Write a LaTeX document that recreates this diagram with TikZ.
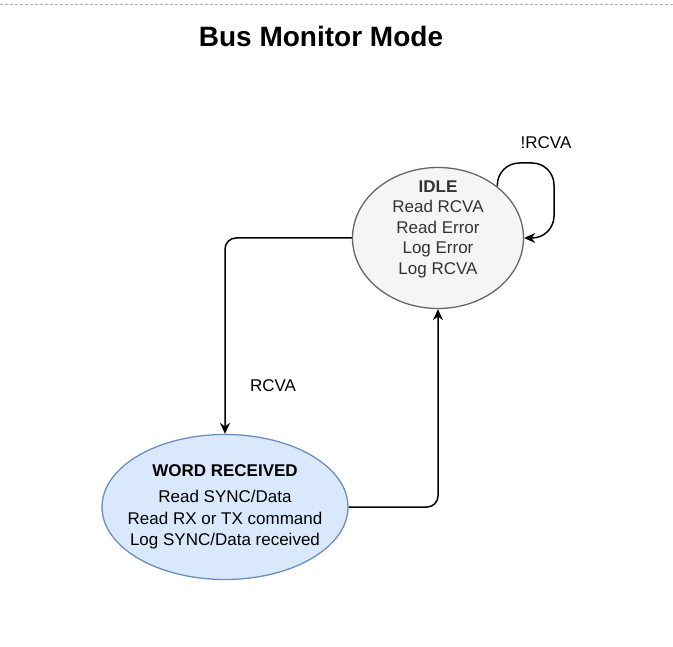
\documentclass[tikz,border=0pt]{standalone}
\usepackage{fontspec}
\setmainfont{Liberation Sans}
\usetikzlibrary{shapes.geometric,arrows.meta}
\definecolor{idlefill}{HTML}{F5F5F5}
\definecolor{idledraw}{HTML}{666666}
\definecolor{idletext}{HTML}{333333}
\definecolor{wordfill}{HTML}{DAE8FC}
\definecolor{worddraw}{HTML}{6C8EBF}
\tikzset{
  statebox/.style={ellipse, draw, line width=1.3pt, inner sep=0pt},
  idlestate/.style={statebox, fill=idlefill, draw=idledraw},
  wordstate/.style={statebox, fill=wordfill, draw=worddraw},
  bodytext/.style={font=\fontsize{17pt}{20.5pt}\selectfont, align=center, inner sep=0pt},
  edgelabel/.style={font=\fontsize{17pt}{20.5pt}\selectfont, inner sep=0pt},
  flow/.style={line width=1.5pt, -{Stealth[length=11pt,width=10pt]}, rounded corners=11pt},
}
\begin{document}
\begin{tikzpicture}[x=1pt,y=-1pt]
\useasboundingbox (0,0) rectangle (673,647);
\fill[white] (0,0) rectangle (673,647);
\draw[gray!60, line width=0.8pt, dash pattern=on 3pt off 2pt] (0,4) -- (673,4);

\node[font=\bfseries\fontsize{28pt}{34pt}\selectfont] (title) at (321,36) {Bus Monitor Mode};

\node[idlestate, minimum width=171pt, minimum height=141pt] (idle) at (438,238) {};
\node[bodytext, text=idletext] (idletxt) at (438,229)
  {\textbf{IDLE}\\Read RCVA\\Read Error\\Log Error\\Log RCVA};

\node[wordstate, minimum width=246pt, minimum height=145pt] (word) at (225,507) {};
\node[bodytext, font=\fontsize{17pt}{21.5pt}\selectfont] (wordtxt) at (225,507)
  {\textbf{WORD RECEIVED}\\[4.5pt]Read SYNC/Data\\Read RX or TX command\\Log SYNC/Data received};

\coordinate (loopc) at (554,163);
\draw[flow, rounded corners=22pt] (idle.41) |- (loopc) |- (idle.east);
\node[edgelabel] (lblnot) at (546,143) {!RCVA};

\draw[flow] (idle.west) -| (word.north);
\node[edgelabel] (lblrcva) at (273,386) {RCVA};

\draw[flow] (word.east) -| (idle.south);
\end{tikzpicture}
\end{document}
